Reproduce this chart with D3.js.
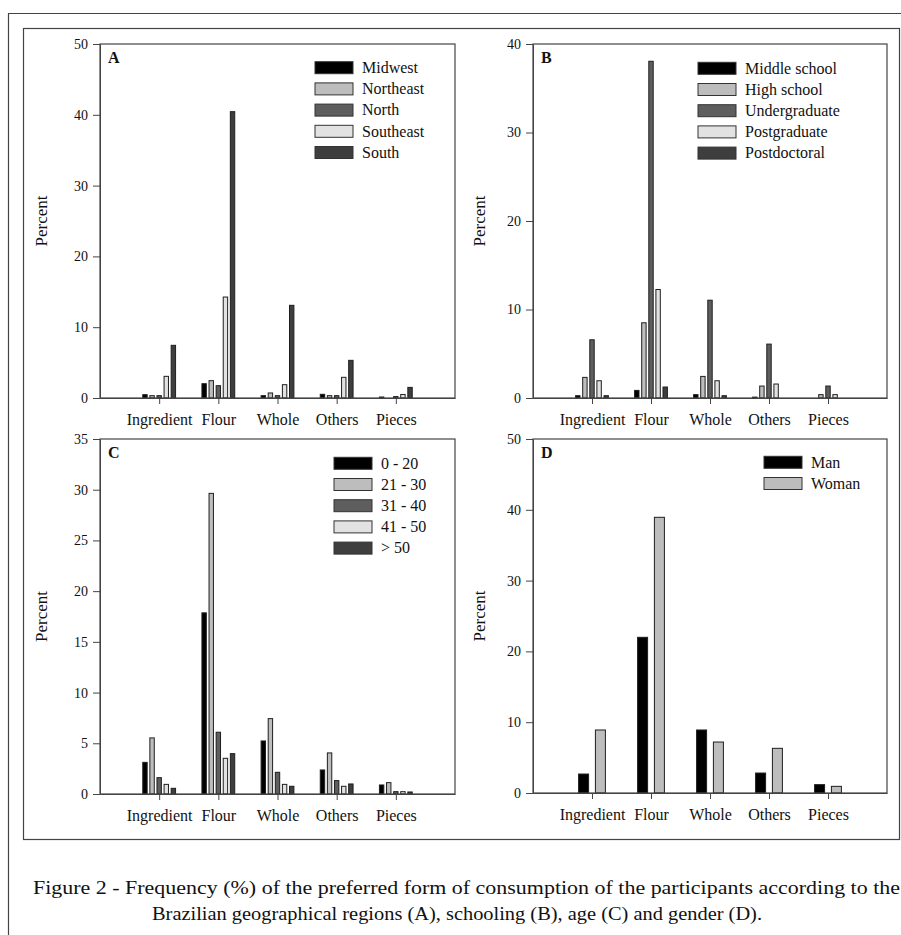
<!DOCTYPE html>
<html>
<head>
<meta charset="utf-8">
<script src="https://cdn.jsdelivr.net/npm/d3@7"></script>
<style>
  body { margin: 0; background: #fff; }
  svg { display: block; }
  text { font-family: "Liberation Serif", "Times New Roman", serif; fill: #111; }
</style>
</head>
<body>
<div id="chart"></div>
<script>
// categories shared by all four panels
var categories = ["Ingredient", "Flour", "Whole", "Others", "Pieces"];

// A - regions
var regionNames = ["Midwest", "Northeast", "North", "Southeast", "South"];
var midwest   = [0.47, 2.02, 0.33, 0.52, 0.14];
var northeast = [0.33, 2.45, 0.71, 0.33, 0];
var north     = [0.33, 1.74, 0.33, 0.33, 0.2];
var southeast = [3.06, 14.26, 1.88, 2.92, 0.5];
var south     = [7.44, 40.44, 13.09, 5.32, 1.5];

// B - schooling
var schoolNames = ["Middle school", "High school", "Undergraduate", "Postgraduate", "Postdoctoral"];
var middleSchool  = [0.26, 0.86, 0.38, 0.1, 0];
var highSchool    = [2.33, 8.5, 2.44, 1.35, 0.38];
var undergraduate = [6.58, 38.05, 11.05, 6.09, 1.35];
var postgraduate  = [1.95, 12.26, 1.95, 1.58, 0.38];
var postdoctoral  = [0.26, 1.24, 0.26, 0, 0];

// C - age
var ageNames = ["0 - 20", "21 - 30", "31 - 40", "41 - 50", "> 50"];
var age0to20  = [3.12, 17.86, 5.23, 2.37, 0.89];
var age21to30 = [5.53, 29.64, 7.43, 4.05, 1.12];
var age31to40 = [1.61, 6.09, 2.14, 1.32, 0.23];
var age41to50 = [0.95, 3.52, 0.95, 0.76, 0.23];
var ageOver50 = [0.56, 3.98, 0.76, 0.99, 0.2];

// D - gender
var genderNames = ["Man", "Woman"];
var man   = [2.68, 21.99, 8.9, 2.82, 1.18];
var woman = [8.9, 38.94, 7.2, 6.31, 0.94];

// y axis tops and steps
var yMaxA = 50, yMaxB = 40, yMaxC = 35, yMaxD = 50;
var yStepA = 10, yStepB = 10, yStepC = 5, yStepD = 10;

var fiveFills = ["#000000", "#bdbdbd", "#5e5e5e", "#e2e2e2", "#3e3e3e"];
var twoFills = ["#000000", "#bdbdbd"];

var svg = d3.select("#chart").append("svg")
  .attr("width", 901)
  .attr("height", 935);

// outer frames
svg.append("line").attr("x1", 8.5).attr("x2", 8.5).attr("y1", 13.5).attr("y2", 935)
  .attr("stroke", "#444").attr("stroke-width", 1.2);
svg.append("line").attr("x1", 8).attr("x2", 901).attr("y1", 13.5).attr("y2", 13.5)
  .attr("stroke", "#444").attr("stroke-width", 1.2);
svg.append("rect").attr("x", 23.5).attr("y", 28.5).attr("width", 876).attr("height", 811)
  .attr("fill", "none").attr("stroke", "#444").attr("stroke-width", 1.2);

function drawPanel(p) {
  var width = p.right - p.left;
  var height = p.bottom - p.top;
  var g = svg.append("g").attr("transform", `translate(${p.left}, ${p.top})`);

  // categories sit at 1..5 on a 0..6 scale
  var x = d3.scaleLinear().domain([0, categories.length + 1]).range([0, width]);
  var y = d3.scaleLinear().domain([0, p.yMax]).range([height, 0]);

  // bars, one group per series
  var n = p.series.length;
  p.series.forEach(function(vals, i) {
    var rows = vals.map((v, j) => ({ cat: j, value: v })).filter(d => d.value > 0);
    g.append("g").selectAll("rect")
      .data(rows)
      .enter()
      .append("rect")
      .attr("x", d => x(d.cat + 1) + (i - (n - 1) / 2) * p.step - p.barW / 2)
      .attr("y", d => y(d.value))
      .attr("width", p.barW)
      .attr("height", d => height - y(d.value))
      .attr("fill", p.fills[i])
      .attr("stroke", "#1e1e1e")
      .attr("stroke-width", 1);
  });

  // y axis
  var leftAxis = d3.axisLeft(y)
    .tickValues(d3.range(0, p.yMax + 0.001, p.yStep))
    .tickSizeInner(7).tickSizeOuter(0).tickPadding(5);
  var ya = g.append("g").call(leftAxis);
  ya.selectAll("text").style("font-size", "14px").style("font-family", "Liberation Serif");
  ya.selectAll("line, path").attr("stroke", "#444");

  // x axis
  var bottomAxis = d3.axisBottom(x)
    .tickValues(d3.range(1, categories.length + 1))
    .tickFormat(d => categories[d - 1])
    .tickSizeInner(6).tickSizeOuter(0).tickPadding(10);
  var xa = g.append("g").attr("transform", `translate(0, ${height})`).call(bottomAxis);
  xa.selectAll("text").style("font-size", "16px").style("font-family", "Liberation Serif");
  xa.selectAll("line, path").attr("stroke", "#444");

  // frame
  g.append("rect").attr("x", 0).attr("y", 0).attr("width", width).attr("height", height)
    .attr("fill", "none").attr("stroke", "#444").attr("stroke-width", 1.2);

  // panel letter
  g.append("text").attr("x", 8).attr("y", 19).text(p.letter)
    .style("font-size", "16px").style("font-weight", "bold");

  // y label
  g.append("text")
    .attr("transform", `translate(${p.yLabelX - p.left}, ${height / 2}) rotate(-90)`)
    .attr("text-anchor", "middle")
    .attr("dy", "0.35em")
    .style("font-size", "17px")
    .text("Percent");

  // legend
  var lg = g.append("g").attr("transform", `translate(${p.legX - p.left}, ${p.legY - p.top})`);
  p.names.forEach(function(name, i) {
    lg.append("rect").attr("x", 0).attr("y", i * 21.2 - 6).attr("width", 38).attr("height", 12)
      .attr("fill", p.fills[i]).attr("stroke", "#333").attr("stroke-width", 1);
    lg.append("text").attr("x", 47).attr("y", i * 21.2).attr("dy", "0.33em")
      .style("font-size", "16px").text(name);
  });
}

drawPanel({ letter: "A", left: 100, top: 44, right: 455, bottom: 398, yMax: yMaxA, yStep: yStepA,
  series: [midwest, northeast, north, southeast, south], names: regionNames, fills: fiveFills,
  step: 7.1, barW: 4.4, yLabelX: 41, legX: 315, legY: 67.7 });

drawPanel({ letter: "B", left: 533, top: 44, right: 887, bottom: 398, yMax: yMaxB, yStep: yStepB,
  series: [middleSchool, highSchool, undergraduate, postgraduate, postdoctoral], names: schoolNames, fills: fiveFills,
  step: 7.1, barW: 4.4, yLabelX: 479, legX: 698, legY: 68.3 });

drawPanel({ letter: "C", left: 100, top: 439, right: 455, bottom: 794, yMax: yMaxC, yStep: yStepC,
  series: [age0to20, age21to30, age31to40, age41to50, ageOver50], names: ageNames, fills: fiveFills,
  step: 7.1, barW: 4.4, yLabelX: 41, legX: 334, legY: 463.3 });

drawPanel({ letter: "D", left: 533, top: 439, right: 887, bottom: 793, yMax: yMaxD, yStep: yStepD,
  series: [man, woman], names: genderNames, fills: twoFills,
  step: 16.8, barW: 10, yLabelX: 479, legX: 764, legY: 462.3 });

// caption
svg.append("text").attr("x", 33).attr("y", 894)
  .attr("textLength", 867).attr("lengthAdjust", "spacingAndGlyphs")
  .style("font-size", "19px")
  .text("Figure 2 - Frequency (%) of the preferred form of consumption of the participants according to the");
svg.append("text").attr("x", 152).attr("y", 920)
  .attr("textLength", 610).attr("lengthAdjust", "spacingAndGlyphs")
  .style("font-size", "19px")
  .text("Brazilian geographical regions (A), schooling (B), age (C) and gender (D).");
</script>
</body>
</html>
